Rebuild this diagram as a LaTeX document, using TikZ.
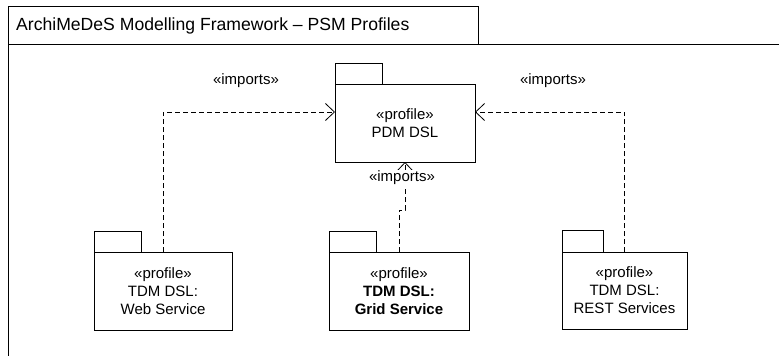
\documentclass[tikz,border=0pt]{standalone}
\usepackage{fontspec}
\setmainfont{Liberation Sans}
\usetikzlibrary{arrows.meta}
\begin{document}
\begin{tikzpicture}[x=1pt,y=-1pt,
  pkg/.style={draw,line width=0.9pt,inner sep=0pt,outer sep=0pt,align=center,
    font=\fontsize{15}{18}\selectfont},
  lbl/.style={font=\fontsize{15}{18}\selectfont,inner sep=1pt},
  dep/.style={draw,line width=0.8pt,dash pattern=on 5pt off 3pt,
    -{Straight Barb[length=9pt,width=17pt,line width=0.8pt]}}]
\useasboundingbox (0,0) rectangle (779,356);
% frame
\draw[line width=0.9pt] (8,356) -- (8,6) -- (478,6) -- (478,44);
\draw[line width=0.9pt] (8,44) -- (779,44);
\node[anchor=west,font=\fontsize{17.6}{20}\selectfont,inner sep=0pt] (title) at (16,26)
  {ArchiMeDeS Modelling Framework -- PSM Profiles};
% packages
\node[pkg,minimum width=140pt,minimum height=78pt] (pdm) at (405,123)
  {«profile»\\PDM DSL};
\draw[line width=0.9pt] (pdm.north west) rectangle ++(47,-21);
\node[pkg,minimum width=138pt,minimum height=78pt] (ws) at (163,291)
  {«profile»\\TDM DSL:\\Web Service};
\draw[line width=0.9pt] (ws.north west) rectangle ++(47,-21);
\node[pkg,minimum width=140pt,minimum height=78pt] (gs) at (399,291)
  {«profile»\\\textbf{TDM DSL:}\\\textbf{Grid Service}};
\draw[line width=0.9pt] (gs.north west) rectangle ++(47,-21);
\node[pkg,minimum width=125pt,minimum height=77pt] (rs) at (624.5,290.5)
  {«profile»\\TDM DSL:\\REST Services};
\draw[line width=0.9pt] (rs.north west) rectangle ++(41,-22);
% connectors
\draw[dep] (ws.north) |- ([yshift=11pt]pdm.west);
\draw[dep] (rs.north) |- ([yshift=11pt]pdm.east);
\draw[dep] (gs.north) -- ++(0,-42) -| (pdm.south);
% labels
\node[lbl] (l1) at (246,81) {«imports»};
\node[lbl] (l2) at (553,81) {«imports»};
\node[lbl,fill=white] (l3) at (402,178) {«imports»};
\end{tikzpicture}
\end{document}
